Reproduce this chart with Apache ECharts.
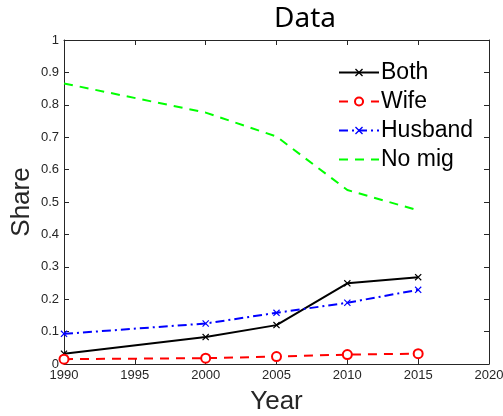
<!DOCTYPE html>
<html><head><meta charset="utf-8">
<script src="https://cdn.jsdelivr.net/npm/echarts@6/dist/echarts.min.js"></script>
<style>html,body{margin:0;padding:0;background:#fff}#c{width:503px;height:416px}</style>
</head><body><div id="c"></div>
<script>
const years = [1990, 2000, 2005, 2010, 2015];
const both = [0.032, 0.083, 0.120, 0.249, 0.268];
const wife = [0.015, 0.018, 0.023, 0.029, 0.032];
const husband = [0.093, 0.125, 0.158, 0.189, 0.229];
const noMig = [0.866, 0.776, 0.702, 0.537, 0.474];
const names = ['Both', 'Wife', 'Husband', 'No mig'];

const xMark = 'path://M0,1.2L1.2,0L5,3.8L8.8,0L10,1.2L6.2,5L10,8.8L8.8,10L5,6.2L1.2,10L0,8.8L3.8,5Z';
const font = 'Liberation Sans, Arial, sans-serif';
const pair = (arr) => years.map((y, i) => [y, arr[i]]);

const chart = echarts.init(document.getElementById('c'));
const axisCommon = () => ({
  axisLine: {show: true, onZero: false, lineStyle: {color: '#262626', width: 1}},
  axisTick: {show: true, inside: true, length: 5, lineStyle: {color: '#262626'}},
  splitLine: {show: false}
});
chart.setOption({
  animation: false,
  title: {text: 'Data', left: 300, top: 0, textAlign: 'center',
    textStyle: {fontFamily: 'Noto Sans, sans-serif', fontWeight: 'normal', fontSize: 28, color: '#000'}},
  grid: {left: 64, right: 14, top: 40, bottom: 52, containLabel: false, outerBoundsMode: 'none'},
  legend: {
    data: [{name: 'Both'}, {name: 'Wife'}, {name: 'Husband'}, {name: 'No mig', itemStyle: {opacity: 0}}],
    orient: 'vertical', left: 333, top: 56, itemGap: 6,
    itemWidth: 40, itemHeight: 10,
    textStyle: {fontFamily: font, fontSize: 23, color: '#000', padding: [0, 0, 0, -3]}
  },
  xAxis: [
    Object.assign({type: 'value', min: 1990, max: 2020, interval: 5,
      name: 'Year', nameLocation: 'middle', nameGap: 25, nameMoveOverlap: false,
      nameTextStyle: {fontFamily: font, fontSize: 26, color: '#262626'},
      axisLabel: {fontFamily: font, fontSize: 13, color: '#262626', margin: 5,
        formatter: v => String(v)}}, axisCommon()),
    Object.assign({type: 'value', min: 1990, max: 2020, interval: 5, position: 'top',
      axisLabel: {show: false}}, axisCommon())
  ],
  yAxis: [
    Object.assign({type: 'value', min: 0, max: 1, interval: 0.1,
      name: 'Share', nameLocation: 'middle', nameGap: 29, nameMoveOverlap: false,
      nameTextStyle: {fontFamily: font, fontSize: 26, color: '#262626'},
      axisLabel: {fontFamily: font, fontSize: 13, color: '#262626', margin: 5,
        formatter: v => String(Math.round(v * 10) / 10)}}, axisCommon()),
    Object.assign({type: 'value', min: 0, max: 1, interval: 0.1, position: 'right',
      axisLabel: {show: false}}, axisCommon())
  ],
  series: [
    {name: 'Both', type: 'line', data: pair(both), symbol: xMark, symbolSize: 7,
      lineStyle: {color: '#000', width: 2, type: 'solid'},
      itemStyle: {color: '#000'}},
    {name: 'Wife', type: 'line', data: pair(wife), symbol: 'emptyCircle', symbolSize: 9,
      lineStyle: {color: '#ff0000', width: 2, type: [9, 7]},
      itemStyle: {color: '#ff0000', borderWidth: 2}},
    {name: 'Husband', type: 'line', data: pair(husband), symbol: xMark, symbolSize: 7,
      lineStyle: {color: '#0000ff', width: 2, type: [9, 4, 2, 4]},
      itemStyle: {color: '#0000ff'}},
    {name: 'No mig', type: 'line', data: pair(noMig), symbol: 'none', showSymbol: false,
      lineStyle: {color: '#00ff00', width: 2, type: [9, 7]},
      itemStyle: {color: '#00ff00'}}
  ]
});
</script></body></html>
